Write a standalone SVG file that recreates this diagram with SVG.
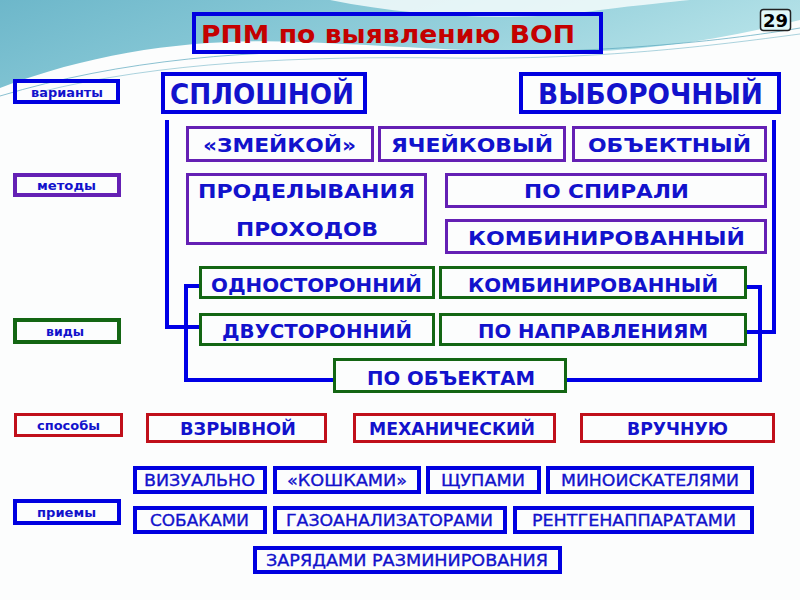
<svg xmlns="http://www.w3.org/2000/svg" width="800" height="600" viewBox="0 0 800 600">
<defs>
<linearGradient id="bg" x1="0" y1="0" x2="1" y2="0.3">
<stop offset="0" stop-color="#6db7ca"/>
<stop offset="0.5" stop-color="#8ccbd8"/>
<stop offset="1" stop-color="#b5e2e8"/>
</linearGradient>
<style>
.t{font-family:"DejaVu Sans",Verdana,sans-serif;fill:#1212cc}
.b{font-weight:bold}
.m{stroke:#1212cc;stroke-width:0.35}
.bx{fill:none;stroke-width:3}
.bl{stroke:#0000e0;stroke-width:4}
.pu{stroke:#6420b4}
.gr{stroke:#136613}
.rd{stroke:#c0101a}
.c{fill:none;stroke:#0000e6;stroke-width:4}
</style>
</defs>
<rect width="800" height="600" fill="#fcfdfd"/>
<path d="M0,0 H800 V20 C720,40 640,52 560,52 C470,52 400,46 300,42 C200,38 100,50 0,88 Z" fill="url(#bg)"/>
<path d="M330,0 C420,18 520,22 600,10 C640,5 670,2 690,0 Z" fill="#f4fbfc" opacity="0.85"/>
<path d="M0,96 C120,60 250,48 400,52 C560,56 700,45 800,28" fill="none" stroke="#5aa7bd" stroke-width="1" opacity="0.7"/>
<path d="M40,92 C160,62 300,56 450,58 C600,60 710,46 800,34" fill="none" stroke="#5aa7bd" stroke-width="1" opacity="0.5"/>

<g id="title">
<rect class="bx bl" x="194" y="14" width="407" height="38"/>
<text class="t b" x="201" y="43" font-size="25" textLength="374" lengthAdjust="spacingAndGlyphs" style="fill:#c40000">РПМ по выявлению ВОП</text>
</g>
<g id="page">
<rect x="760.5" y="9.5" width="30" height="21" rx="3" fill="#e0f8f8" stroke="#222" stroke-width="1.5"/>
<text class="t b" x="775.5" y="27" font-size="18" text-anchor="middle" style="fill:#000">29</text>
</g>

<g id="connectors">
<path class="c" d="M167,120 V327 H199"/>
<path class="c" d="M774,120 V332 H747"/>
<path class="c" d="M199,286 H186 V380 H333"/>
<path class="c" d="M747,287 H760 V380 H567"/>
</g>

<g id="lbl-varianty"><rect class="bx bl" x="15" y="81" width="103" height="21"/><text class="t b" x="31" y="97" font-size="13" textLength="72" lengthAdjust="spacingAndGlyphs">варианты</text></g>
<g id="lbl-metody"><rect class="bx bl pu" x="15" y="175" width="104" height="20"/><text class="t b" x="37" y="190" font-size="13" textLength="59" lengthAdjust="spacingAndGlyphs">методы</text></g>
<g id="lbl-vidy"><rect class="bx bl gr" x="15" y="320" width="104" height="22"/><text class="t b" x="46" y="336" font-size="12" textLength="38" lengthAdjust="spacingAndGlyphs">виды</text></g>
<g id="lbl-sposoby"><rect class="bx rd" x="15.5" y="414.5" width="106" height="21"/><text class="t b" x="37" y="430" font-size="13" textLength="63" lengthAdjust="spacingAndGlyphs">способы</text></g>
<g id="lbl-priemy"><rect class="bx bl" x="15" y="501" width="104" height="22"/><text class="t b" x="37" y="517" font-size="13" textLength="59" lengthAdjust="spacingAndGlyphs">приемы</text></g>

<g id="splosh"><rect class="bx bl" x="163" y="74" width="202" height="38"/><text class="t b" x="170" y="104" font-size="29" textLength="184" lengthAdjust="spacingAndGlyphs">СПЛОШНОЙ</text></g>
<g id="vybor"><rect class="bx bl" x="521" y="74" width="258" height="38"/><text class="t b" x="538" y="104" font-size="29" textLength="225" lengthAdjust="spacingAndGlyphs">ВЫБОРОЧНЫЙ</text></g>

<g id="zmeykoy"><rect class="bx pu" x="187.5" y="127.5" width="185" height="33"/><text class="t b" x="203" y="152" font-size="20" textLength="153" lengthAdjust="spacingAndGlyphs">«ЗМЕЙКОЙ»</text></g>
<g id="yacheyk"><rect class="bx pu" x="379.5" y="127.5" width="185" height="33"/><text class="t b" x="391" y="152" font-size="20" textLength="162" lengthAdjust="spacingAndGlyphs">ЯЧЕЙКОВЫЙ</text></g>
<g id="obekt"><rect class="bx pu" x="573.5" y="127.5" width="192" height="33"/><text class="t b" x="588" y="152" font-size="20" textLength="163" lengthAdjust="spacingAndGlyphs">ОБЪЕКТНЫЙ</text></g>
<g id="prodel"><rect class="bx pu" x="187.5" y="174.5" width="238" height="69"/><text class="t b" x="198" y="198" font-size="20" textLength="217" lengthAdjust="spacingAndGlyphs">ПРОДЕЛЫВАНИЯ</text><text class="t b" x="236" y="236" font-size="20" textLength="142" lengthAdjust="spacingAndGlyphs">ПРОХОДОВ</text></g>
<g id="spiral"><rect class="bx pu" x="446.5" y="174.5" width="319" height="32"/><text class="t b" x="524" y="198" font-size="20" textLength="165" lengthAdjust="spacingAndGlyphs">ПО СПИРАЛИ</text></g>
<g id="komb-m"><rect class="bx pu" x="446.5" y="220.5" width="319" height="32"/><text class="t b" x="468" y="245" font-size="20" textLength="277" lengthAdjust="spacingAndGlyphs">КОМБИНИРОВАННЫЙ</text></g>

<g id="odnost"><rect class="bx gr" x="200.5" y="267.5" width="233" height="30"/><text class="t b" x="211" y="292" font-size="20" textLength="211" lengthAdjust="spacingAndGlyphs">ОДНОСТОРОННИЙ</text></g>
<g id="komb-v"><rect class="bx gr" x="440.5" y="267.5" width="305" height="30"/><text class="t b" x="468" y="292" font-size="20" textLength="250" lengthAdjust="spacingAndGlyphs">КОМБИНИРОВАННЫЙ</text></g>
<g id="dvust"><rect class="bx gr" x="200.5" y="314.5" width="233" height="30"/><text class="t b" x="222" y="338" font-size="20" textLength="190" lengthAdjust="spacingAndGlyphs">ДВУСТОРОННИЙ</text></g>
<g id="napravl"><rect class="bx gr" x="440.5" y="314.5" width="305" height="30"/><text class="t b" x="478" y="338" font-size="20" textLength="230" lengthAdjust="spacingAndGlyphs">ПО НАПРАВЛЕНИЯМ</text></g>
<g id="poobekt"><rect class="bx gr" x="334.5" y="359.5" width="231" height="32"/><text class="t b" x="367" y="385" font-size="20" textLength="168" lengthAdjust="spacingAndGlyphs">ПО ОБЪЕКТАМ</text></g>

<g id="vzryv"><rect class="bx rd" x="147.5" y="414.5" width="178" height="27"/><text class="t b" x="180" y="435" font-size="17" textLength="116" lengthAdjust="spacingAndGlyphs">ВЗРЫВНОЙ</text></g>
<g id="mehan"><rect class="bx rd" x="354.5" y="414.5" width="200" height="27"/><text class="t b" x="369" y="435" font-size="17" textLength="166" lengthAdjust="spacingAndGlyphs">МЕХАНИЧЕСКИЙ</text></g>
<g id="vruch"><rect class="bx rd" x="581.5" y="414.5" width="192" height="27"/><text class="t b" x="627" y="435" font-size="17" textLength="101" lengthAdjust="spacingAndGlyphs">ВРУЧНУЮ</text></g>

<g id="vizual"><rect class="bx bl" x="135" y="468" width="130" height="24"/><text class="t m" x="144" y="486" font-size="16" textLength="111" lengthAdjust="spacingAndGlyphs">ВИЗУАЛЬНО</text></g>
<g id="koshkami"><rect class="bx bl" x="275" y="468" width="144" height="24"/><text class="t m" x="287" y="486" font-size="16" textLength="120" lengthAdjust="spacingAndGlyphs">«КОШКАМИ»</text></g>
<g id="shchupami"><rect class="bx bl" x="428" y="468" width="111" height="24"/><text class="t m" x="441" y="486" font-size="16" textLength="84" lengthAdjust="spacingAndGlyphs">ЩУПАМИ</text></g>
<g id="minoisk"><rect class="bx bl" x="548" y="468" width="204" height="24"/><text class="t m" x="561" y="486" font-size="16" textLength="178" lengthAdjust="spacingAndGlyphs">МИНОИСКАТЕЛЯМИ</text></g>
<g id="sobakami"><rect class="bx bl" x="135" y="508" width="130" height="24"/><text class="t m" x="150" y="526" font-size="16" textLength="99" lengthAdjust="spacingAndGlyphs">СОБАКАМИ</text></g>
<g id="gazoanal"><rect class="bx bl" x="275" y="508" width="230" height="24"/><text class="t m" x="286" y="526" font-size="16" textLength="207" lengthAdjust="spacingAndGlyphs">ГАЗОАНАЛИЗАТОРАМИ</text></g>
<g id="rentgen"><rect class="bx bl" x="515" y="508" width="237" height="24"/><text class="t m" x="532" y="526" font-size="16" textLength="204" lengthAdjust="spacingAndGlyphs">РЕНТГЕНАППАРАТАМИ</text></g>
<g id="zaryad"><rect class="bx bl" x="255" y="548" width="305" height="24"/><text class="t m" x="266" y="566" font-size="16" textLength="282" lengthAdjust="spacingAndGlyphs">ЗАРЯДАМИ РАЗМИНИРОВАНИЯ</text></g>
</svg>
